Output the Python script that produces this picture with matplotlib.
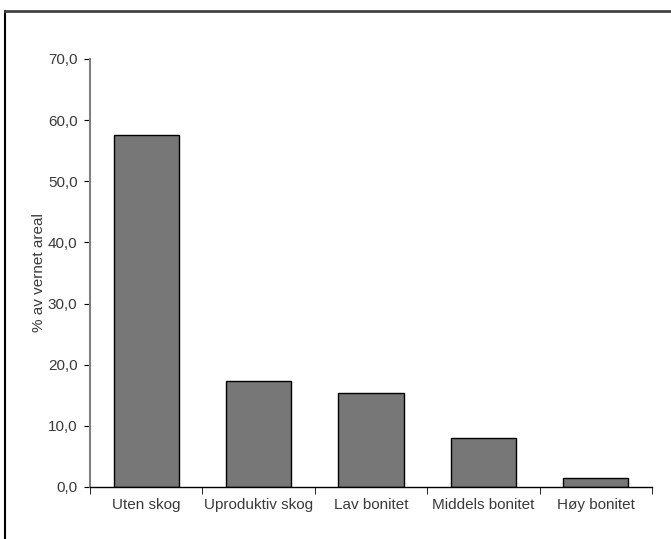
import matplotlib
matplotlib.use("Agg")
import matplotlib.pyplot as plt
from matplotlib.lines import Line2D

categories = ["Uten skog", "Uproduktiv skog", "Lav bonitet", "Middels bonitet", "Høy bonitet"]
values = [57.5, 17.4, 15.4, 8.0, 1.5]
yticks = [0, 10, 20, 30, 40, 50, 60, 70]

plt.rcParams['font.family'] = ['Liberation Sans', 'DejaVu Sans']

fig = plt.figure(figsize=(6.71, 5.39), dpi=100)
ax = fig.add_axes([90/671, 1 - 487/539, (652 - 90)/671, (487 - 59)/539])

x = range(len(categories))
ax.bar(x, values, width=0.58, color="#777777", edgecolor="black", linewidth=1)

ax.set_xlim(-0.5, len(categories) - 0.5)
ax.set_ylim(0, 70)
ax.set_yticks(yticks)
ax.set_yticklabels([f"{v:.1f}".replace(".", ",") for v in yticks])
ax.set_xticks(list(x))
ax.set_xticklabels(categories)
ax.set_xticks([i + 0.5 for i in range(-1, len(categories))], minor=True)
ax.tick_params(axis='x', which='major', length=0, pad=8)
ax.tick_params(axis='x', which='minor', length=5, color="black")
ax.tick_params(axis='y', length=4, color="black", pad=5)
ax.tick_params(labelsize=11, labelcolor="#3a3a3a")

for s in ["top", "right"]:
    ax.spines[s].set_visible(False)
ax.spines["left"].set_color("#808080")
ax.spines["left"].set_linewidth(1.5)
ax.spines["bottom"].set_color("black")
ax.spines["bottom"].set_linewidth(1)

ax.set_ylabel("% av vernet areal", fontsize=11, color="#3a3a3a", labelpad=1)

# outer frame (cut off at the right and bottom)
fig.add_artist(Line2D([5/671, 5/671], [0, 1 - 11/539], color="black", linewidth=1.5))
fig.add_artist(Line2D([5/671, 1], [1 - 11/539, 1 - 11/539], color="#444444", linewidth=2))

fig.savefig("out.png", dpi=100)
